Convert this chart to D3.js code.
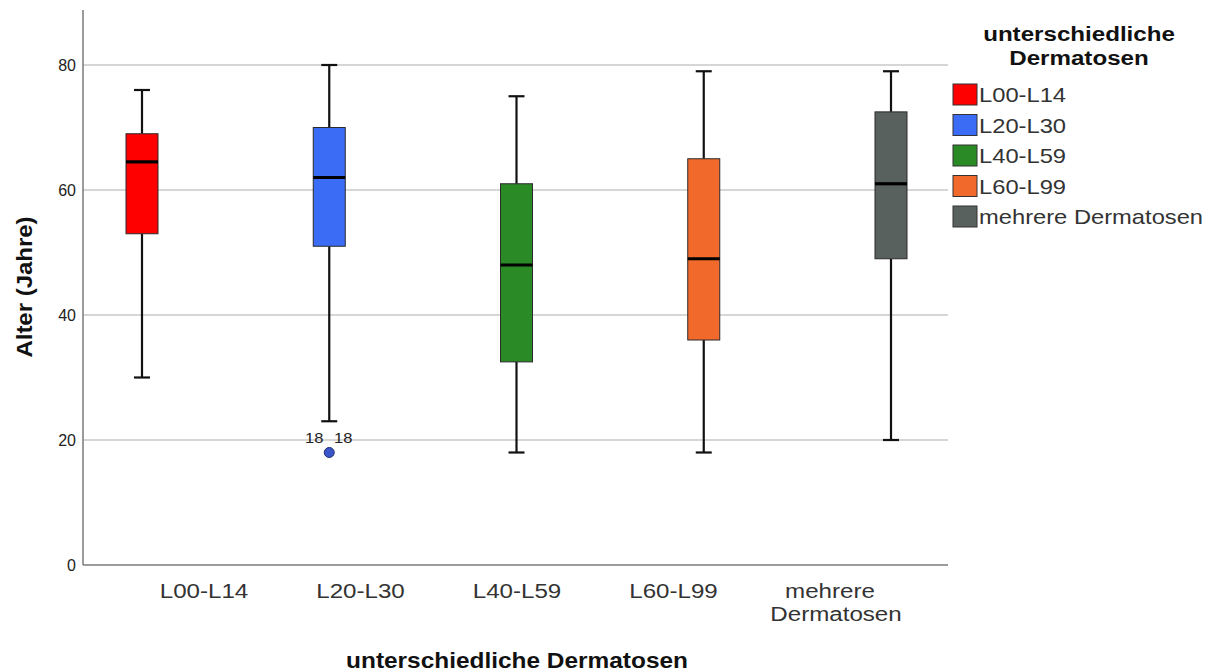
<!DOCTYPE html>
<html>
<head>
<meta charset="utf-8">
<script src="https://cdn.jsdelivr.net/npm/d3@7"></script>
<style>
  html, body { margin: 0; padding: 0; background: #fff; }
  svg { display: block; font-family: "Liberation Sans", Arial, sans-serif; }
</style>
</head>
<body>
<svg id="chart" width="1212" height="672"></svg>
<script>
const categories = ["L00-L14", "L20-L30", "L40-L59", "L60-L99", "mehrere Dermatosen"];
const tickLabelLines = [["L00-L14"], ["L20-L30"], ["L40-L59"], ["L60-L99"], ["mehrere", "Dermatosen"]];
const whiskerLow = [30, 23, 18, 18, 20];
const q1 = [53, 51, 32.5, 36, 49];
const median = [64.5, 62, 48, 49, 61];
const q3 = [69, 70, 61, 65, 72.5];
const whiskerHigh = [76, 80, 75, 79, 79];
const outlierCategory = ["L20-L30"];
const outlierValue = [18];
const outlierIds = [["18", "18"]];
const colors = ["#ff0000", "#3b6cf5", "#2a8a26", "#f26a2b", "#58615d"];
const yTicks = [0, 20, 40, 60, 80];
const legendTitle = ["unterschiedliche", "Dermatosen"];
const xTitle = "unterschiedliche Dermatosen";
const yTitle = "Alter (Jahre)";

(function () {
const svg = d3.select("#chart");
const pLeft = 83, pRight = 948, pTop = 10, pBottom = 565;

const y = d3.scaleLinear().domain([0, 88.8]).range([pBottom, pTop]);
const xBox = d3.scalePoint().domain(categories).range([142, 891]);
const xLab = d3.scalePoint().domain(categories).range([204, 830]);
const boxW = 32, capW = 16;

// text helper with horizontal stretch (reference text is rendered wide)
function stretchedText(parent, x, yy, str, size, opts) {
  opts = opts || {};
  const g = parent.append("g")
    .attr("transform", `translate(${x},${yy})` + (opts.rotate ? ` rotate(${opts.rotate})` : "") + ` scale(${opts.sx || 1},1)`);
  const t = g.append("text").attr("x", 0).attr("y", 0)
    .attr("text-anchor", opts.anchor || "middle")
    .attr("font-size", size)
    .attr("font-weight", opts.bold ? "bold" : "normal")
    .attr("fill", opts.fill || "#333")
    .text(str);
  if (opts.baseline) t.attr("dominant-baseline", opts.baseline);
  return t;
}

// gridlines
svg.append("g").selectAll("line").data(yTicks.filter(d => d > 0)).join("line")
  .attr("x1", pLeft).attr("x2", pRight)
  .attr("y1", d => y(d)).attr("y2", d => y(d))
  .attr("stroke", "#c9c9c9").attr("stroke-width", 1.5);

// y axis
const yAxis = d3.axisLeft(y).tickValues(yTicks).tickSize(0).tickPadding(7);
const gy = svg.append("g").attr("transform", `translate(${pLeft},0)`).call(yAxis);
gy.select(".domain").remove();
gy.selectAll("text").attr("font-size", 16).attr("fill", "#222")
  .attr("font-family", "Liberation Sans, Arial, sans-serif");
svg.append("line").attr("x1", pLeft).attr("x2", pLeft).attr("y1", pTop).attr("y2", pBottom)
  .attr("stroke", "#7a7a7a").attr("stroke-width", 1.5);
svg.append("line").attr("x1", pLeft).attr("x2", pRight).attr("y1", pBottom).attr("y2", pBottom)
  .attr("stroke", "#7a7a7a").attr("stroke-width", 1.5);

// x tick labels
const gx = svg.append("g");
categories.forEach((c, i) => {
  tickLabelLines[i].forEach((ln, j) => {
    stretchedText(gx, xLab(c) + (j === 1 ? 6 : 0), 598 + j * 23, ln, 21, { sx: 1.15, fill: "#333" });
  });
});

// boxes
const boxes = svg.append("g");
categories.forEach((c, i) => {
  const cx = xBox(c);
  const g = boxes.append("g");
  g.append("line").attr("x1", cx).attr("x2", cx).attr("y1", y(whiskerHigh[i])).attr("y2", y(q3[i]))
    .attr("stroke", "#111").attr("stroke-width", 2.2);
  g.append("line").attr("x1", cx).attr("x2", cx).attr("y1", y(q1[i])).attr("y2", y(whiskerLow[i]))
    .attr("stroke", "#111").attr("stroke-width", 2.2);
  g.append("line").attr("x1", cx - capW / 2).attr("x2", cx + capW / 2)
    .attr("y1", y(whiskerHigh[i])).attr("y2", y(whiskerHigh[i])).attr("stroke", "#111").attr("stroke-width", 2.2);
  g.append("line").attr("x1", cx - capW / 2).attr("x2", cx + capW / 2)
    .attr("y1", y(whiskerLow[i])).attr("y2", y(whiskerLow[i])).attr("stroke", "#111").attr("stroke-width", 2.2);
  g.append("rect").attr("x", cx - boxW / 2).attr("width", boxW)
    .attr("y", y(q3[i])).attr("height", y(q1[i]) - y(q3[i]))
    .attr("fill", colors[i]).attr("stroke", "#2a2a2a").attr("stroke-width", 1);
  g.append("line").attr("x1", cx - boxW / 2).attr("x2", cx + boxW / 2)
    .attr("y1", y(median[i])).attr("y2", y(median[i])).attr("stroke", "#000").attr("stroke-width", 3.2);
});

// outliers
outlierCategory.forEach((c, k) => {
  const cx = xBox(c);
  svg.append("circle").attr("cx", cx).attr("cy", y(outlierValue[k])).attr("r", 5)
    .attr("fill", "#3a55c8").attr("stroke", "#1c2a70").attr("stroke-width", 1);
  outlierIds[k].forEach((id, j) => {
    stretchedText(svg, cx + (j === 0 ? -15 : 14), y(outlierValue[k]) - 10, id, 15, { sx: 1.1, fill: "#222" });
  });
});

// legend
const lg = svg.append("g");
legendTitle.forEach((t, j) => {
  stretchedText(lg, 1079, 41 + j * 24, t, 21, { sx: 1.15, bold: true, fill: "#111" });
});
categories.forEach((c, i) => {
  const yy = 84 + i * 30.5;
  lg.append("rect").attr("x", 953).attr("y", yy).attr("width", 24).attr("height", 21)
    .attr("fill", colors[i]).attr("stroke", "#333").attr("stroke-width", 1);
  stretchedText(lg, 979, yy + 11, c, 21, { sx: 1.13, anchor: "start", baseline: "central", fill: "#333" });
});

// axis titles
stretchedText(svg, 517, 668, xTitle, 22, { sx: 1.11, bold: true, fill: "#111" });
stretchedText(svg, 32, 287, yTitle, 22, { sx: 1.09, bold: true, fill: "#111", rotate: -90 });
})();
</script>
</body>
</html>
